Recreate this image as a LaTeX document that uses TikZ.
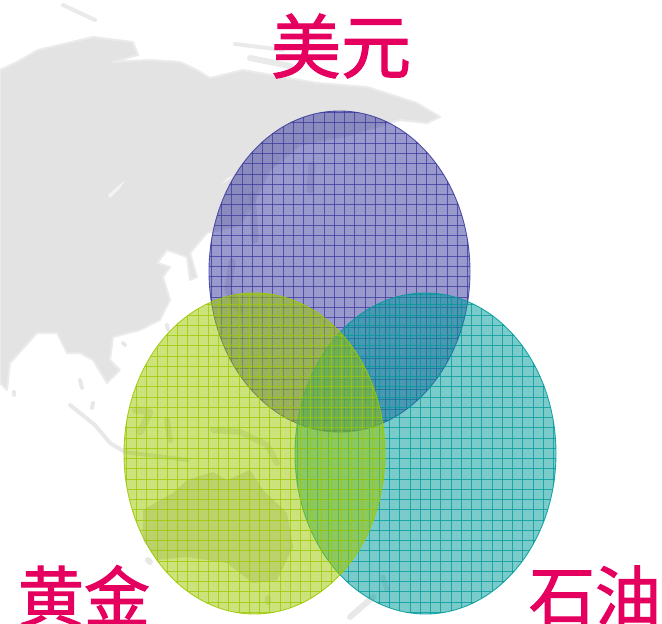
\documentclass[tikz,border=0pt]{standalone}
\usepackage{fontspec}
\newfontfamily\cjk[FakeBold=1.6]{Noto Sans CJK SC}
\usetikzlibrary{patterns}
\definecolor{mapgrey}{HTML}{E3E3E3}
\definecolor{labelred}{HTML}{E5005F}
\definecolor{dollarblue}{HTML}{3A3A9E}
\definecolor{goldgreen}{HTML}{9CC800}
\definecolor{oilteal}{HTML}{009A9A}
\pgfdeclarepatternformonly{checker}{\pgfqpoint{0pt}{0pt}}{\pgfqpoint{2pt}{2pt}}{\pgfqpoint{2pt}{2pt}}{%
  \pgfpathrectangle{\pgfqpoint{0pt}{0pt}}{\pgfqpoint{1pt}{1pt}}
  \pgfpathrectangle{\pgfqpoint{1pt}{1pt}}{\pgfqpoint{1pt}{1pt}}
  \pgfusepath{fill}}
% one hatched oval: centre x, centre y, colour
\newcommand{\gridoval}[3]{
  \fill[#3,fill opacity=0.5] (#1,#2) ellipse [x radius=130.5pt,y radius=160.5pt];
  \fill[pattern=checker,pattern color=#3,opacity=0.14] (#1,#2) ellipse [x radius=130.5pt,y radius=160.5pt];
  \begin{scope}
    \clip (#1,#2) ellipse [x radius=130.5pt,y radius=160.5pt];
    \foreach \i in {-13,...,12}
      \draw[gridline,#3] (#1+\i*10.25+5.1,#2-165) -- (#1+\i*10.25+5.1,#2+165);
    \foreach \i in {-16,...,15}
      \draw[gridline,#3] (#1-135,#2+\i*10.25+5.1) -- (#1+135,#2+\i*10.25+5.1);
  \end{scope}
  \draw[#3,line width=0.9pt,opacity=0.85] (#1,#2) ellipse [x radius=130.5pt,y radius=160.5pt];
}
\begin{document}
\begin{tikzpicture}[x=1pt,y=-1pt]

  \tikzstyle{gridline}=[line width=0.9pt,opacity=0.75]
  \tikzstyle{land}=[fill=mapgrey,draw=mapgrey!70,line width=2pt,line join=round]
  \tikzstyle{shoal}=[draw=mapgrey,line width=4pt,line cap=round,line join=round,opacity=0.75]
  \tikzstyle{isle}=[draw=mapgrey!90!black,line width=4pt,line cap=round,line join=round,opacity=0.45]
  \tikzstyle{label}=[text=labelred,font=\cjk\fontsize{70}{70}\selectfont,inner sep=0pt]

  \useasboundingbox (0,0) rectangle (662,624);
  \clip (0,0) rectangle (662,624);

  % map behind the ovals
  \draw[land] (0,70) -- (17,62) -- (38,50) -- (93,37) -- (133,42) -- (138,55) -- (113,62)
    -- (150,60) -- (180,62) -- (197,70) -- (210,78) -- (243,70) -- (317,83) -- (367,87) -- (417,103)
    -- (440,117) -- (427,123) -- (400,120) -- (350,135) -- (300,145) -- (270,170) -- (255,200)
    -- (240,225) -- (207,233) -- (190,253) -- (197,277) -- (190,280) -- (187,257) -- (167,250)
    -- (157,263) -- (170,267) -- (163,277) -- (170,300) -- (160,320) -- (140,330) -- (113,337)
    -- (110,360) -- (120,370) -- (107,383) -- (93,360) -- (80,353) -- (67,353) -- (57,333)
    -- (37,333) -- (10,363) -- (7,390) -- (0,383) -- cycle;
  \fill[white] (228,178) -- (222,184) -- (233,176) -- cycle;
  \fill[white,opacity=0.6] (108,195) -- (125,180) -- (120,188) -- (110,198) -- cycle;
  % islands
  \draw[shoal] (63,5) -- (80,13) -- (95,20);
  \draw[shoal] (235,44) -- (283,50);
  \draw[shoal,line width=6pt] (250,58) -- (290,66);
  \draw[isle] (70,405) -- (95,425) -- (110,443) -- (125,452) -- (187,460);
  \draw[isle] (80,380) -- (82,388);
  \draw[isle] (93,403) -- (92,408);
  \draw[isle] (14,392) -- (14,395);
  \draw[isle] (167,325) -- (168,330);
  \draw[isle] (123,343) -- (125,345);
  \draw[isle,line width=7pt] (135,410) -- (150,412) -- (140,432);
  \draw[isle,line width=6pt] (167,420) -- (170,440);
  \draw[isle,line width=6pt] (213,430) -- (240,432) -- (267,445) -- (277,463);
  \draw[isle,line width=7pt] (252,195) -- (255,240);
  \draw[isle,line width=7pt] (232,262) -- (228,290) -- (240,310);
  \draw[isle,line width=7pt] (312,165) -- (310,190);
  \draw[isle,line width=6pt] (350,617) -- (373,597);
  \draw[isle,line width=5pt] (383,577) -- (387,590);
  \draw[isle,line width=6pt] (148,560) -- (150,562);
  \draw[isle,line width=6pt] (268,598) -- (268,602);
  \fill[mapgrey!85!black,opacity=0.5] (143,510) -- (173,493) -- (187,480) -- (213,472) -- (227,480)
    -- (250,470) -- (263,490) -- (287,513) -- (293,547) -- (277,580) -- (253,583) -- (227,563)
    -- (187,557) -- (157,560) -- (143,540) -- cycle;

  % the three ovals
  \gridoval{339.5}{271.5}{dollarblue}
  \gridoval{425.5}{453.5}{oilteal}
  \gridoval{254.5}{453.5}{goldgreen}

  % labels
  \node[label] (dollar) at (341,46) {美元};
  \node[label,font=\cjk\fontsize{66}{66}\selectfont] (gold) at (84,596) {黄金};
  \node[label,font=\cjk\fontsize{66}{66}\selectfont] (oil) at (595,596) {石油};
\end{tikzpicture}
\end{document}
